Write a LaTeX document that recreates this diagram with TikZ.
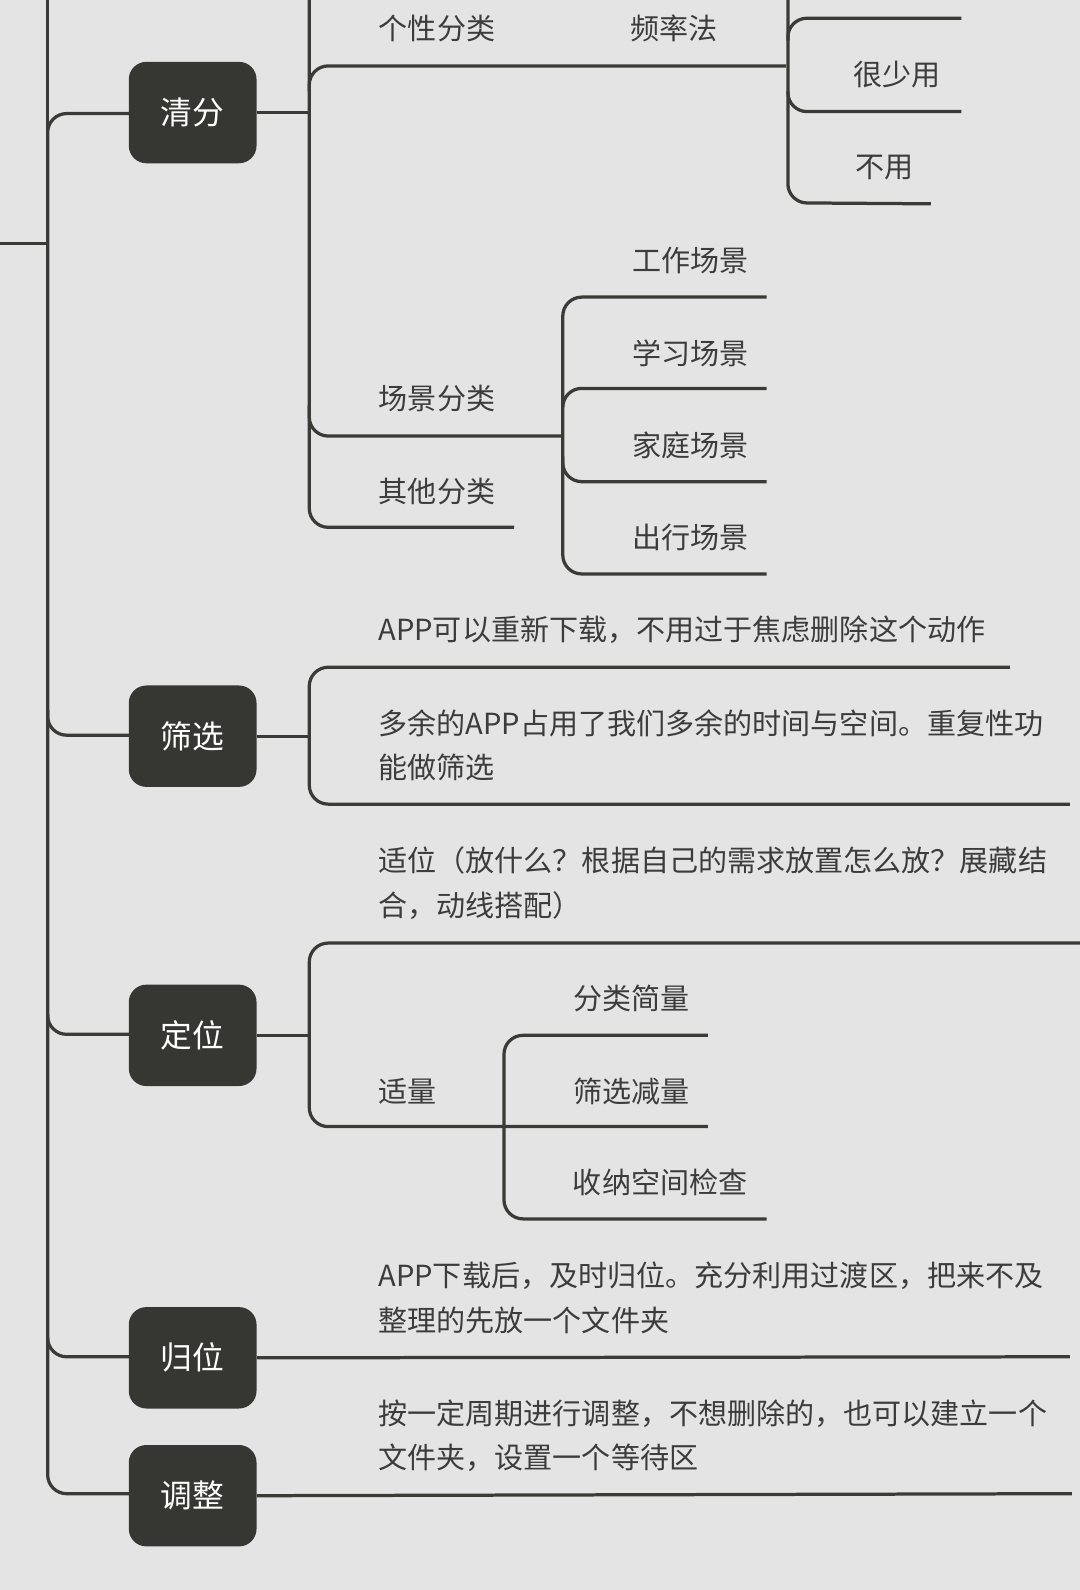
\documentclass[tikz,border=0pt]{standalone}
\usepackage{fontspec}
\setmainfont{Noto Sans CJK SC}
\definecolor{bg}{HTML}{E4E4E4}
\definecolor{ln}{HTML}{3A3A36}
\definecolor{bx}{HTML}{363632}
\definecolor{tx}{HTML}{3C3C3C}
\begin{document}
\begin{tikzpicture}[x=0.75pt,y=-0.75pt,
  ll/.style={draw=ln,line width=2.4pt,rounded corners=14pt},
  box/.style={fill=bx,rounded corners=13pt,minimum width=94.5pt,minimum height=75pt,text=white,font=\fontsize{23.5}{28}\selectfont,inner sep=0},
  lab/.style={text=tx,font=\fontsize{21.5}{33}\selectfont,inner sep=0},
  labl/.style={lab,anchor=west,align=left}]
\fill[bg] (0,0) rectangle (1065,1568);
\useasboundingbox (0,0) rectangle (1065,1568);
% trunk
\draw[ll] (0,240) -- (47,240);
\draw[ll,rounded corners=0] (47,0) -- (47,240);
\draw[ll] (127,112) -- (47,112) -- (47,1473) -- (127,1473);
\draw[ll] (47,700) |- (127,725);
\draw[ll] (47,1000) |- (127,1020);
\draw[ll] (47,1320) |- (127,1338);
\node[box] (qf) at (190,111) {清分};
\node[box] (sx) at (190,726) {筛选};
\node[box] (dw) at (190,1021) {定位};
\node[box] (gw) at (190,1339) {归位};
\node[box] (tz) at (190,1475) {调整};
% 清分
\draw[ll] (qf.east) -- (305,111);
\draw[ll] (305,0) -- (305,520) -- (507,520);
\draw[ll] (305,90) |- (775,65);
\draw[ll] (305,400) |- (555,430);
\draw[ll] (777,0) -- (777,200) -- (918,201);
\draw[ll] (777,40) |- (948,18);
\draw[ll] (777,90) |- (948,110);
\draw[ll] (756,293) -- (555,293) -- (555,566) -- (756,566);
\draw[ll] (555,400) |- (756,383);
\draw[ll] (555,450) |- (756,475);
\node[lab] (a1) at (431,28) {个性分类};
\node[lab] (a2) at (665,28) {频率法};
\node[lab] (a3) at (885,73) {很少用};
\node[lab] (a4) at (872,165) {不用};
\node[lab] (a5) at (431,393) {场景分类};
\node[lab] (a6) at (431,485) {其他分类};
\node[lab] (b1) at (681,257) {工作场景};
\node[lab] (b2) at (681,348) {学习场景};
\node[lab] (b3) at (681,439) {家庭场景};
\node[lab] (b4) at (681,530) {出行场景};
% 筛选
\draw[ll] (sx.east) -- (305,726);
\draw[ll] (996,658) -- (305,658) -- (305,793) -- (1055,793);
\node[labl] (c1) at (373,621) {APP可以重新下载，不用过于焦虑删除这个动作};
\node[labl] (c2) at (373,735) {多余的APP占用了我们多余的时间与空间。重复性功\\能做筛选};
% 定位
\draw[ll] (dw.east) -- (305,1021);
\draw[ll] (1065,930) -- (305,930) -- (305,1111) -- (698,1111);
\draw[ll] (698,1021) -- (497,1021) -- (497,1202) -- (756,1202);
\node[labl] (d1) at (373,871) {适位（放什么？根据自己的需求放置怎么放？展藏结\\合，动线搭配）};
\node[lab] (d2) at (402,1076) {适量};
\node[lab] (d3) at (623,985) {分类简量};
\node[lab] (d4) at (623,1076) {筛选减量};
\node[lab] (d5) at (651,1166) {收纳空间检查};
% 归位
\draw[ll] (gw.east) -- (1055,1338);
\node[labl] (e1) at (373,1280) {APP下载后，及时归位。充分利用过渡区，把来不及\\整理的先放一个文件夹};
% 调整
\draw[ll] (tz.east) -- (1057,1473);
\node[labl] (f1) at (373,1416) {按一定周期进行调整，不想删除的，也可以建立一个\\文件夹，设置一个等待区};
\end{tikzpicture}
\end{document}
